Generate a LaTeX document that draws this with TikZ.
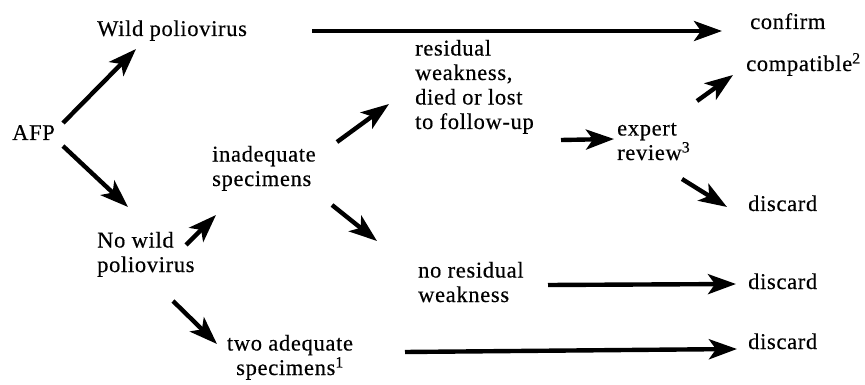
\documentclass[tikz,border=0pt]{standalone}
\usepackage{fontspec}
\setmainfont{Liberation Serif}[LetterSpace=3,FakeBold=0.4]
\usepackage{tikz}
\usetikzlibrary{arrows.meta}

\begin{document}
\begin{tikzpicture}[line cap=round,line join=round,x=1pt,y=-1pt,
    >={Stealth[length=28pt,width=20pt,inset=7pt]},
    lbl/.style={inner sep=0pt,anchor=base west,align=left,font=\fontsize{22.5}{24.5}\selectfont},
    flow/.style={->,line width=4.4pt,line cap=butt}]
\useasboundingbox (0,0) rectangle (865,385);
% stages (multi-line labels sit on their last line)
\node[lbl] (afp) at (12,140) {AFP};
\node[lbl] (wild) at (97,36) {Wild poliovirus};
\node[lbl] (confirm) at (750,29) {confirm};
\node[lbl] (nowild) at (97,272) {No wild\\poliovirus};
\node[lbl] (inadeq) at (212,186) {inadequate\\specimens};
\node[lbl,anchor=base,align=center] (twoadeq) at (290,375) {two adequate\\specimens\textsuperscript{1}};
\node[lbl] (resid) at (415,129) {residual\\weakness,\\died or lost\\to follow-up};
\node[lbl] (nores) at (418,302) {no residual\\weakness};
\node[lbl] (expert) at (617,160) {expert\\review\textsuperscript{3}};
\node[lbl] (compat) at (746,71) {compatible\textsuperscript{2}};
\node[lbl] (discA) at (748,211) {discard};
\node[lbl] (discB) at (748,289) {discard};
\node[lbl] (discC) at (748,349) {discard};
% arrows
\draw[flow] ([shift={(215,-5)}]wild.base west) -- ([shift={(-28,2)}]confirm.base west);
\draw[flow] ([shift={(51,-17)}]afp.base west) -- ([shift={(39,13)}]wild.base west);
\draw[flow] ([shift={(51,6)}]afp.base west) -- ([shift={(31,-65)}]nowild.base west);
\draw[flow] ([shift={(89,-27)}]nowild.base west) -- ([shift={(4,29)}]inadeq.base west);
\draw[flow] ([shift={(76,29)}]nowild.base west) -- ([shift={(-73,-31)}]twoadeq.base);
\draw[flow] ([shift={(125,-44)}]inadeq.base west) -- ([shift={(-26,-25)}]resid.base west);
\draw[flow] ([shift={(120,19)}]inadeq.base west) -- ([shift={(-41,-61)}]nores.base west);
\draw[flow] ([shift={(146,11)}]resid.base west) -- ([shift={(-3,-21)}]expert.base west);
\draw[flow] ([shift={(80,-59)}]expert.base west) -- ([shift={(-13,4)}]compat.base west);
\draw[flow] ([shift={(65,19)}]expert.base west) -- ([shift={(-21,-4)}]discA.base west);
\draw[flow] ([shift={(130,-17)}]nores.base west) -- ([shift={(-12,-5)}]discB.base west);
\draw[flow] ([shift={(115,-23)}]twoadeq.base) -- ([shift={(-11,0)}]discC.base west);
\end{tikzpicture}
\end{document}
